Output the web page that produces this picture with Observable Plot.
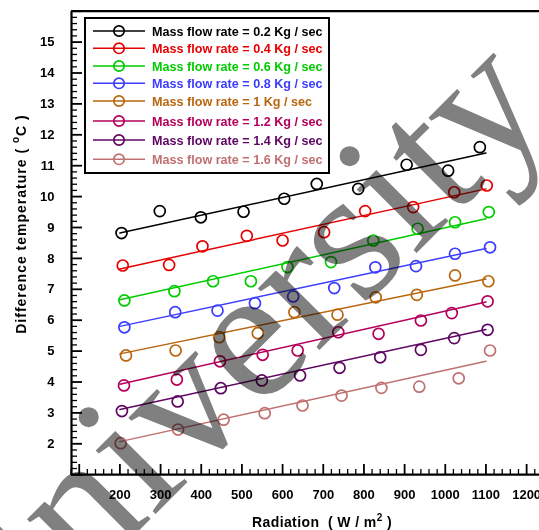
<!DOCTYPE html>
<html><head><meta charset="utf-8">
<script src="https://cdn.jsdelivr.net/npm/d3@7"></script>
<script src="https://cdn.jsdelivr.net/npm/@observablehq/plot@0.6"></script>
<style>html,body{margin:0;padding:0;background:#fff;overflow:hidden} svg{display:block}</style>
</head><body><div id="chart"></div>
<script>
// ---- data ----
const massFlowRates = ["0.2", "0.4", "0.6", "0.8", "1", "1.2", "1.4", "1.6"];
const seriesColors = ["#000000", "#e60000", "#00cc00", "#3c3cff", "#b8660f", "#b4005a", "#5e0662", "#c07070"];

const rad02 = [204, 298, 399, 504, 604, 684, 786, 905, 1007, 1085];
const dT02  = [8.82, 9.53, 9.33, 9.51, 9.93, 10.41, 10.25, 11.03, 10.84, 11.60];
const rad04 = [207, 321, 403, 512, 600, 702, 803, 921, 1022, 1102];
const dT04  = [7.77, 7.79, 8.39, 8.73, 8.58, 8.85, 9.53, 9.66, 10.14, 10.36];
const rad06 = [211, 334, 429, 522, 612, 719, 823, 932, 1024, 1107];
const dT06  = [6.64, 6.94, 7.26, 7.26, 7.72, 7.88, 8.58, 8.96, 9.17, 9.50];
const rad08 = [211, 336, 440, 532, 626, 727, 828, 928, 1024, 1110];
const dT08  = [5.77, 6.26, 6.31, 6.55, 6.77, 7.04, 7.71, 7.75, 8.15, 8.36];
const rad10 = [215, 337, 444, 539, 629, 735, 829, 930, 1024, 1106];
const dT10  = [4.86, 5.02, 5.45, 5.58, 6.26, 6.18, 6.74, 6.82, 7.45, 7.26];
const rad12 = [210, 340, 446, 551, 637, 737, 836, 940, 1016, 1104];
const dT12  = [3.89, 4.08, 4.67, 4.88, 5.02, 5.61, 5.56, 5.99, 6.23, 6.61];
const rad14 = [205, 342, 448, 549, 643, 740, 840, 940, 1022, 1104];
const dT14  = [3.06, 3.37, 3.80, 4.05, 4.21, 4.46, 4.80, 5.04, 5.42, 5.69];
const rad16 = [202, 343, 455, 556, 649, 745, 843, 936, 1033, 1110];
const dT16  = [2.02, 2.46, 2.78, 2.99, 3.24, 3.56, 3.81, 3.85, 4.12, 5.02];

// fitted straight lines (value at start / end radiation)
const fitRadiation = [200, 1100];
const fitStart = [8.82, 7.66, 6.66, 5.80, 4.91, 3.93, 3.11, 2.07];
const fitEnd   = [11.41, 10.25, 9.28, 8.32, 7.33, 6.59, 5.70, 4.67];

const xTickLabels = [200, 300, 400, 500, 600, 700, 800, 900, 1000, 1100, 1200];
const yTickLabels = [2, 3, 4, 5, 6, 7, 8, 9, 10, 11, 12, 13, 14, 15];
const watermarkText = "University";

// ---- build tables ----
const radiation = [rad02, rad04, rad06, rad08, rad10, rad12, rad14, rad16];
const deltaT = [dT02, dT04, dT06, dT08, dT10, dT12, dT14, dT16];
const seriesNames = massFlowRates.map(m => `Mass flow rate = ${m} Kg / sec`);
const points = seriesNames.flatMap((s, i) => radiation[i].map((x, j) => ({series: s, x, y: deltaT[i][j]})));
const fits = seriesNames.flatMap((s, i) => [
  {series: s, x: fitRadiation[0], y: fitStart[i]},
  {series: s, x: fitRadiation[1], y: fitEnd[i]}
]);

const xMajor = d3.range(100, 1301, 100);
const xMinor = d3.range(80, 1301, 20).filter(v => v % 100 !== 0);
const yMajor = d3.range(1, 16.01, 1);
const yMinor = d3.range(1, 16.01, 0.2).map(v => +v.toFixed(1)).filter(v => Math.abs(v - Math.round(v)) > 1e-6);

const W = 539, H = 530, ML = 71, MT = 11, MB = 55;
const frameW = W - ML, frameH = H - MT - MB;
const font = "'Liberation Sans', Arial, sans-serif";

const chart = Plot.plot({
  width: W, height: H,
  marginLeft: ML, marginRight: 0, marginTop: MT, marginBottom: MB,
  style: {fontFamily: font, fontSize: "13px", fontWeight: "bold", background: "#fff", color: "#000"},
  x: {domain: [81, 1300], range: [71, 566.8]},
  y: {domain: [1, 16], range: [474.2, 10.7]},
  color: {domain: seriesNames, range: seriesColors},
  marks: [
    Plot.tickY(yMinor, {y: d => d, insetRight: frameW - 6, strokeWidth: 1.3}),
    Plot.tickY(yMajor, {y: d => d, insetRight: frameW - 11, strokeWidth: 1.8}),
    Plot.tickX(xMinor, {x: d => d, insetTop: frameH - 6, strokeWidth: 1.3}),
    Plot.tickX(xMajor, {x: d => d, insetTop: frameH - 11, strokeWidth: 1.8}),
    Plot.ruleY([1], {strokeWidth: 2.2}),
    Plot.ruleY([16], {strokeWidth: 2.2}),
    Plot.ruleX([81], {strokeWidth: 2.2}),
    Plot.axisX(xTickLabels, {tickSize: 0, tickPadding: 14, fontSize: 13, fontWeight: "bold", tickFormat: d3.format("d"), label: null}),
    Plot.axisY(yTickLabels, {tickSize: 0, tickPadding: 17, fontSize: 13, fontWeight: "bold", tickFormat: d3.format("d"), label: null}),
    Plot.line(fits, {x: "x", y: "y", z: "series", stroke: "series", strokeWidth: 1.5}),
    Plot.dot(points, {x: "x", y: "y", stroke: "series", r: 5.5, strokeWidth: 1.7, fill: "none"})
  ]
});

const svg = d3.select(chart);

// legend
const lg = svg.append("g").attr("font-family", font).attr("font-weight", "bold").attr("font-size", 12.6)
  .attr("text-anchor", "start");
lg.append("rect").attr("x", 85).attr("y", 18).attr("width", 244).attr("height", 155)
  .attr("fill", "#fff").attr("stroke", "#000").attr("stroke-width", 2);
const rowY = [31, 48.3, 66, 83.3, 101, 121, 140, 159.3];
seriesNames.forEach((s, i) => {
  const c = seriesColors[i], y = rowY[i];
  lg.append("line").attr("x1", 93).attr("x2", 145).attr("y1", y).attr("y2", y).attr("stroke", c).attr("stroke-width", 1.6);
  lg.append("circle").attr("cx", 119).attr("cy", y).attr("r", 5.2).attr("fill", "none").attr("stroke", c).attr("stroke-width", 1.7);
  lg.append("text").attr("x", 152).attr("y", y + 4.6).attr("fill", c).text(s);
});

// axis titles
const xt = svg.append("text").attr("x", 252).attr("y", 527).attr("text-anchor", "start").attr("font-family", font)
  .attr("font-weight", "bold").attr("font-size", 14).attr("fill", "#000").attr("letter-spacing", 0.4);
xt.append("tspan").text("Radiation\u00A0\u00A0(\u00A0W\u00A0/\u00A0m");
xt.append("tspan").attr("dy", -6).attr("font-size", 10).text("2");
xt.append("tspan").attr("dy", 6).text("\u00A0)");

const yt = svg.append("text").attr("transform", "translate(26,224) rotate(-90)").attr("text-anchor", "middle")
  .attr("font-family", font).attr("font-weight", "bold").attr("font-size", 14).attr("fill", "#000").attr("letter-spacing", 1);
yt.append("tspan").text("Difference temperature\u00A0(\u00A0");
yt.append("tspan").attr("dy", -7).attr("font-size", 10).text("o");
yt.append("tspan").attr("dy", 7).text("C\u00A0)");

// watermark
svg.append("text").attr("transform", "translate(-11.5,681) rotate(-45)").attr("text-anchor", "start")
  .attr("font-family", "'Liberation Serif', 'Times New Roman', serif").attr("font-size", 190)
  .attr("font-weight", "normal").attr("fill", "#808080").style("mix-blend-mode", "multiply")
  .text(watermarkText);

document.getElementById("chart").appendChild(chart);
</script>
</body></html>
